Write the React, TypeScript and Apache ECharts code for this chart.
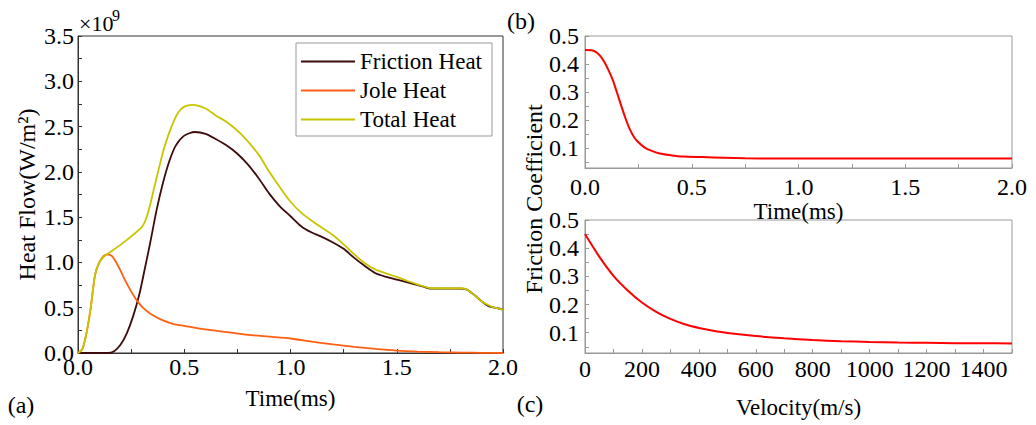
import React, { useEffect, useRef } from "react";
import * as echarts from "echarts";

const FONT = "Liberation Serif";

// (a) Heat flow, x10^9 W/m^2
const frictionTime = [0, 0.05, 0.1, 0.14, 0.17, 0.2, 0.23, 0.26, 0.29, 0.31, 0.34, 0.37, 0.4, 0.43, 0.46, 0.5, 0.55, 0.6, 0.65, 0.7, 0.75, 0.8, 0.85, 0.9, 0.95, 1.0, 1.05, 1.1, 1.15, 1.2, 1.25, 1.3, 1.35, 1.4, 1.45, 1.5, 1.55, 1.6, 1.65, 1.7, 1.75, 1.8, 1.83, 1.86, 1.9, 1.93, 1.96, 2.0];
const frictionHeat = [0, 0, 0, 0, 0.02, 0.09, 0.22, 0.41, 0.66, 0.88, 1.22, 1.58, 1.88, 2.12, 2.29, 2.4, 2.44, 2.42, 2.36, 2.29, 2.2, 2.08, 1.93, 1.76, 1.62, 1.51, 1.4, 1.33, 1.28, 1.22, 1.15, 1.05, 0.96, 0.88, 0.84, 0.81, 0.78, 0.75, 0.715, 0.71, 0.71, 0.71, 0.7, 0.65, 0.57, 0.52, 0.5, 0.48];

const joleTime = [0, 0.02, 0.04, 0.06, 0.08, 0.1, 0.12, 0.14, 0.16, 0.18, 0.2, 0.22, 0.25, 0.28, 0.31, 0.35, 0.4, 0.45, 0.5, 0.6, 0.7, 0.8, 0.9, 1.0, 1.1, 1.2, 1.3, 1.4, 1.5, 1.6, 1.7, 1.8, 1.9, 2.0];
const joleHeat = [0, 0.04, 0.22, 0.5, 0.86, 1.0, 1.07, 1.09, 1.07, 1.0, 0.91, 0.81, 0.68, 0.57, 0.49, 0.42, 0.36, 0.32, 0.3, 0.26, 0.23, 0.2, 0.18, 0.16, 0.125, 0.095, 0.068, 0.045, 0.027, 0.016, 0.009, 0.005, 0.002, 0.0];

const totalTime = [0, 0.02, 0.04, 0.06, 0.08, 0.1, 0.12, 0.14, 0.22, 0.3, 0.32, 0.34, 0.36, 0.38, 0.4, 0.42, 0.44, 0.47, 0.5, 0.54, 0.6, 0.65, 0.7, 0.77, 0.85, 0.9, 0.95, 1.0, 1.05, 1.1, 1.15, 1.2, 1.25, 1.3, 1.35, 1.4, 1.45, 1.5, 1.55, 1.6, 1.65, 1.7, 1.75, 1.8, 1.83, 1.86, 1.9, 1.93, 1.96, 2.0];
const totalHeat = [0, 0.04, 0.22, 0.5, 0.86, 1.0, 1.06, 1.095, 1.23, 1.39, 1.48, 1.64, 1.84, 2.03, 2.22, 2.37, 2.5, 2.65, 2.72, 2.74, 2.7, 2.62, 2.55, 2.41, 2.19, 2.0, 1.83, 1.67, 1.55, 1.46, 1.38, 1.3, 1.2, 1.09, 0.99, 0.92, 0.88, 0.84, 0.795, 0.755, 0.72, 0.715, 0.715, 0.715, 0.7, 0.65, 0.57, 0.53, 0.5, 0.48];

// (b) Friction coefficient vs time
const coefTime = [0, 0.03, 0.05, 0.07, 0.09, 0.11, 0.13, 0.15, 0.17, 0.19, 0.21, 0.23, 0.25, 0.28, 0.31, 0.35, 0.4, 0.46, 0.55, 0.65, 0.75, 0.9, 1.2, 1.6, 2.0];
const coefByTime = [0.45, 0.449, 0.443, 0.43, 0.408, 0.378, 0.343, 0.297, 0.25, 0.205, 0.166, 0.138, 0.12, 0.101, 0.09, 0.08, 0.074, 0.069, 0.067, 0.065, 0.063, 0.062, 0.062, 0.062, 0.062];

// (c) Friction coefficient vs velocity
const velocity = [0, 50, 100, 150, 200, 250, 300, 350, 400, 450, 500, 600, 700, 800, 900, 1000, 1100, 1200, 1300, 1400, 1500];
const coefByVelocity = [0.45, 0.37, 0.302, 0.25, 0.207, 0.174, 0.149, 0.13, 0.117, 0.107, 0.099, 0.088, 0.08, 0.074, 0.07, 0.067, 0.065, 0.064, 0.063, 0.0625, 0.062];

const coefLabelValues = [0.1, 0.2, 0.3, 0.4, 0.5];
const coefTickValues = [0.05, 0.1, 0.15, 0.2, 0.25, 0.3, 0.35, 0.4, 0.45, 0.5];

const pairs = (xs: number[], ys: number[]) => xs.map((x, i) => [x, ys[i]]);

export default function App() {
  const ref = useRef<HTMLDivElement>(null);
  useEffect(() => {
    if (!ref.current) return;
    const chart = echarts.init(ref.current, null, { renderer: "svg" });
    const dark = "#333";
    const gray = "#999";
    const labelStyle = (margin: number) => ({
      fontFamily: FONT,
      fontSize: 24,
      color: "#000",
      margin,
    });
    const nameStyle = { fontFamily: FONT, fontSize: 23, color: "#000" };
    const tick = (color: string) => ({ show: true, inside: true, length: 4, lineStyle: { color } });
    const option: any = {
      animation: false,
      backgroundColor: "#fff",
      grid: [
        { left: 78, top: 36, width: 425, height: 317, show: true, borderColor: dark, borderWidth: 1 },
        { left: 585, top: 36, width: 427, height: 132, show: true, borderColor: gray, borderWidth: 1 },
        { left: 585, top: 220, width: 427, height: 133, show: true, borderColor: gray, borderWidth: 1 },
      ],
      xAxis: [
        {
          gridIndex: 0, type: "value", min: 0, max: 2, interval: 0.5,
          name: "Time(ms)", nameLocation: "middle", nameGap: 34, nameTextStyle: nameStyle,
          axisLine: { lineStyle: { color: dark } },
          axisTick: tick(dark),
          minorTick: { show: true, splitNumber: 2, length: 4, lineStyle: { color: dark } },
          splitLine: { show: false },
          axisLabel: { ...labelStyle(2), formatter: (v: number) => v.toFixed(1) },
        },
        {
          gridIndex: 1, type: "value", min: 0, max: 2, interval: 0.5,
          name: "Time(ms)", nameLocation: "middle", nameGap: 31, nameTextStyle: nameStyle,
          axisLine: { lineStyle: { color: gray } },
          axisTick: tick(gray),
          minorTick: { show: true, splitNumber: 2, length: 4, lineStyle: { color: gray } },
          splitLine: { show: false },
          axisLabel: { ...labelStyle(7), formatter: (v: number) => v.toFixed(1) },
        },
        {
          gridIndex: 2, type: "value", min: 0, max: 1500, interval: 200,
          name: "Velocity(m/s)", nameLocation: "middle", nameGap: 43, nameTextStyle: nameStyle,
          axisLine: { lineStyle: { color: gray } },
          axisTick: tick(gray),
          minorTick: { show: true, splitNumber: 2, length: 4, lineStyle: { color: gray } },
          splitLine: { show: false },
          axisLabel: { ...labelStyle(4), formatter: (v: number) => String(v) },
        },
      ],
      yAxis: [
        {
          gridIndex: 0, type: "value", min: 0, max: 3.5, interval: 0.5,
          name: "Heat Flow(W/m²)", nameLocation: "middle", nameGap: 39,
          nameTextStyle: { ...nameStyle, fontSize: 24 },
          axisLine: { show: true, lineStyle: { color: dark } },
          axisTick: tick(dark),
          minorTick: { show: true, splitNumber: 2, length: 4, lineStyle: { color: dark } },
          splitLine: { show: false },
          axisLabel: { ...labelStyle(4), formatter: (v: number) => v.toFixed(1) },
        },
        {
          gridIndex: 1, type: "value", min: 0.028, max: 0.5,
          axisLine: { show: true, lineStyle: { color: gray } },
          axisTick: { ...tick(gray), customValues: coefTickValues },
          splitLine: { show: false },
          axisLabel: { ...labelStyle(6), customValues: coefLabelValues, formatter: (v: number) => v.toFixed(1) },
        },
        {
          gridIndex: 2, type: "value", min: 0.028, max: 0.5,
          axisLine: { show: true, lineStyle: { color: gray } },
          axisTick: { ...tick(gray), customValues: coefTickValues },
          splitLine: { show: false },
          axisLabel: { ...labelStyle(6), customValues: coefLabelValues, formatter: (v: number) => v.toFixed(1) },
        },
      ],
      legend: {
        data: ["Friction Heat", "Jole Heat", "Total Heat"],
        orient: "vertical",
        left: 296,
        top: 43,
        icon: "rect",
        itemWidth: 54,
        itemHeight: 2,
        itemGap: 6,
        padding: [7, 10, 5, 5],
        borderColor: gray,
        borderWidth: 1,
        backgroundColor: "#fff",
        textStyle: { fontFamily: FONT, fontSize: 23, color: "#000", lineHeight: 23 },
      },
      series: [
        {
          name: "Friction Heat", type: "line", xAxisIndex: 0, yAxisIndex: 0,
          data: pairs(frictionTime, frictionHeat), symbol: "none", smooth: 0.25,
          lineStyle: { color: "#3d0b0b", width: 1.8 }, itemStyle: { color: "#3d0b0b" },
        },
        {
          name: "Jole Heat", type: "line", xAxisIndex: 0, yAxisIndex: 0,
          data: pairs(joleTime, joleHeat), symbol: "none", smooth: 0.25,
          lineStyle: { color: "#ff5f10", width: 1.8 }, itemStyle: { color: "#ff5f10" },
        },
        {
          name: "Total Heat", type: "line", xAxisIndex: 0, yAxisIndex: 0,
          data: pairs(totalTime, totalHeat), symbol: "none", smooth: 0.25,
          lineStyle: { color: "#c8c400", width: 1.8 }, itemStyle: { color: "#c8c400" },
        },
        {
          name: "coefTime", type: "line", xAxisIndex: 1, yAxisIndex: 1,
          data: pairs(coefTime, coefByTime), symbol: "none", smooth: 0.3,
          lineStyle: { color: "#ff0000", width: 2 }, itemStyle: { color: "#ff0000" },
        },
        {
          name: "coefVelocity", type: "line", xAxisIndex: 2, yAxisIndex: 2,
          data: pairs(velocity, coefByVelocity), symbol: "none", smooth: 0.3,
          lineStyle: { color: "#ff0000", width: 2 }, itemStyle: { color: "#ff0000" },
        },
      ],
      graphic: [
        { type: "text", left: 79, top: 12, style: { text: "×10", font: `22px "${FONT}"`, fill: "#000" } },
        { type: "text", left: 112, top: 7, style: { text: "9", font: `16px "${FONT}"`, fill: "#000" } },
        { type: "text", x: 21, y: 405, style: { text: "(a)", font: `24px "${FONT}"`, fill: "#000", align: "center", verticalAlign: "middle" } },
        { type: "text", x: 521, y: 21, style: { text: "(b)", font: `24px "${FONT}"`, fill: "#000", align: "center", verticalAlign: "middle" } },
        { type: "text", x: 530, y: 404, style: { text: "(c)", font: `24px "${FONT}"`, fill: "#000", align: "center", verticalAlign: "middle" } },
        {
          type: "text", x: 534, y: 199, rotation: Math.PI / 2,
          style: { text: "Friction Coefficient", font: `24px "${FONT}"`, fill: "#000", align: "center", verticalAlign: "middle" },
        },
      ],
    };
    chart.setOption(option);
    return () => chart.dispose();
  }, []);
  return (
    <div
      ref={ref}
      style={{ position: "fixed", left: 0, top: 0, width: 1036, height: 425, background: "#fff" }}
    />
  );
}
